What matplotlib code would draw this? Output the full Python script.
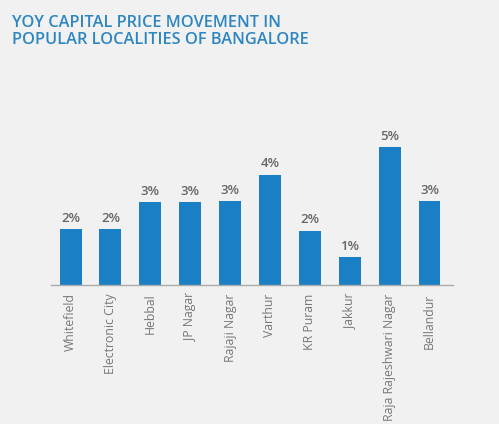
import matplotlib
matplotlib.use("Agg")
import matplotlib.pyplot as plt

localities = ["Whitefield", "Electronic City", "Hebbal", "JP Nagar", "Rajaji Nagar",
              "Varthur", "KR Puram", "Jakkur", "Raja Rajeshwari Nagar", "Bellandur"]
values = [2.03, 2.03, 3.0, 3.0, 3.04, 3.99, 1.96, 1.01, 5.0, 3.04]
labels = ["2%", "2%", "3%", "3%", "3%", "4%", "2%", "1%", "5%", "3%"]
title = "YOY CAPITAL PRICE MOVEMENT IN\nPOPULAR LOCALITIES OF BANGALORE"

W, H = 499, 424
bg = "#f1f1f1"
fig = plt.figure(figsize=(W / 100, H / 100), dpi=100, facecolor=bg)
ax = fig.add_axes([51 / W, (H - 285) / H, (453 - 51) / W, (285 - 140) / H])
ax.set_facecolor(bg)

x = list(range(len(localities)))
bars = ax.bar(x, values, width=0.55, color="#1a7fc4")
for xi, v, lab in zip(x, values, labels):
    ax.text(xi, v + 0.16, lab, ha="center", va="bottom", fontsize=9.5,
            fontweight="semibold", color="#666666", family="Open Sans")

ax.set_xlim(-0.49, 9.59)
ax.set_ylim(0, 145 / 27.6)
ax.set_xticks(x)
ax.set_xticklabels(localities, rotation=90, fontsize=8.8, color="#777777",
                   family="Open Sans")
ax.tick_params(axis="x", length=0, pad=6)
ax.set_yticks([])
for s in ["top", "right", "left"]:
    ax.spines[s].set_visible(False)
ax.spines["bottom"].set_color("#aaaaaa")
ax.spines["bottom"].set_linewidth(1.0)

fig.text(12 / W, 1 - 15 / H, title, ha="left", va="top", fontsize=11.8,
         color="#2e86c1", family="Open Sans", fontweight="semibold",
         linespacing=1.1)

fig.savefig("out.png", dpi=100, facecolor=bg)
